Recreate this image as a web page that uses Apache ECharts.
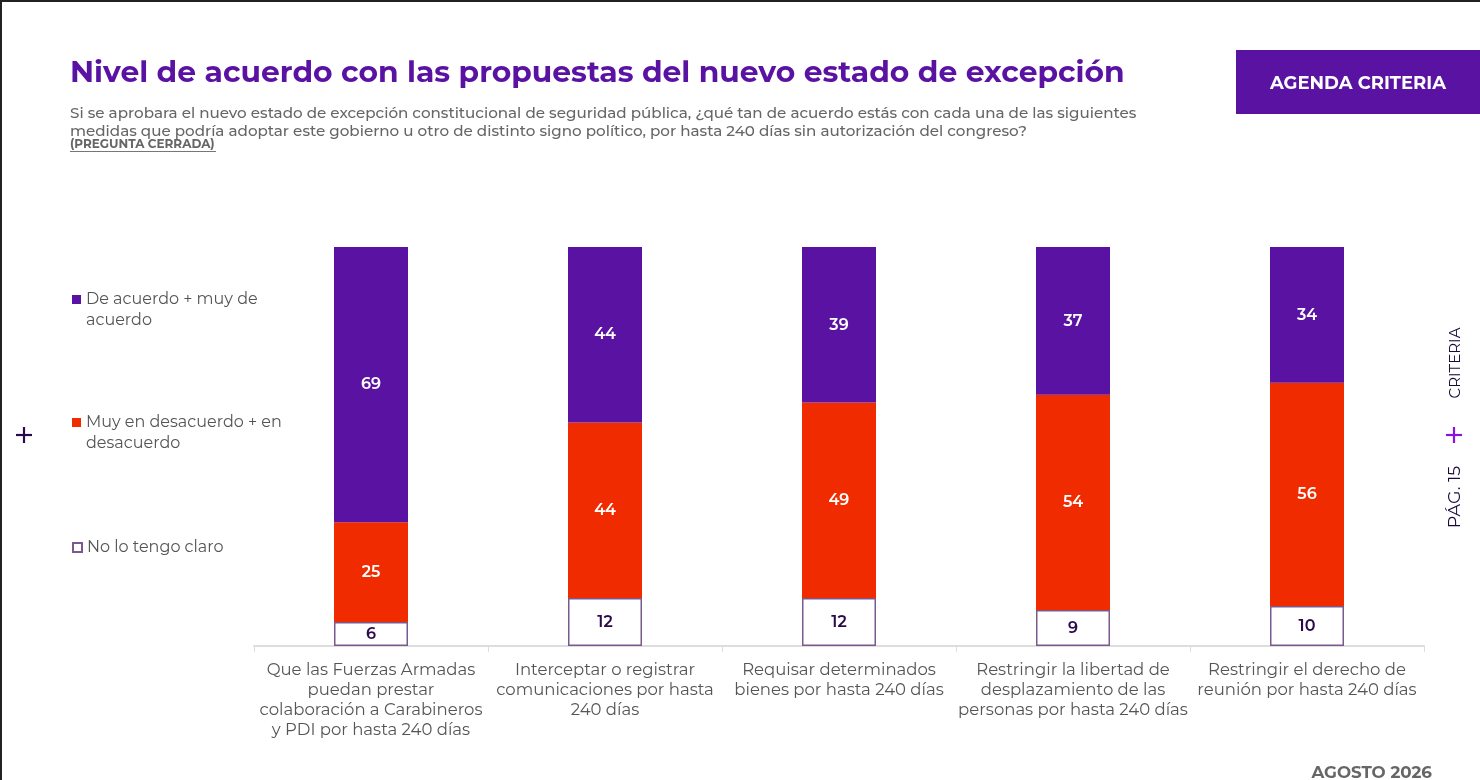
<!DOCTYPE html>
<html>
<head>
<meta charset="utf-8">
<script src="https://cdn.jsdelivr.net/npm/echarts@6/dist/echarts.min.js"></script>
<style>
html,body{margin:0;padding:0;background:#fff;}
#main{width:1480px;height:780px;}
</style>
</head>
<body>
<div id="main"></div>
<script>
var categories = [
	'Que las Fuerzas Armadas\npuedan prestar\ncolaboración a Carabineros\ny PDI por hasta 240 días',
	'Interceptar o registrar\ncomunicaciones por hasta\n240 días',
	'Requisar determinados\nbienes por hasta 240 días',
	'Restringir la libertad de\ndesplazamiento de las\npersonas por hasta 240 días',
	'Restringir el derecho de\nreunión por hasta 240 días'
];
var noClaro = [6, 12, 12, 9, 10];
var desacuerdo = [25, 44, 49, 54, 56];
var acuerdo = [69, 44, 39, 37, 34];

var seriesNames = ['No lo tengo claro', 'Muy en desacuerdo + en desacuerdo', 'De acuerdo + muy de acuerdo'];

var font = 'Montserrat, Inter, sans-serif';
var purple = '#5a12a3';
var red = '#f02b00';
var ink = '#2a0a4a';

var myChart = echarts.init(document.getElementById('main'));

// legend icon sits on the first text line: for 2-line labels the icon box is
// taller (30px) with the square drawn in its top part
var topSquare = 'path://M0,0L9,0L9,9L0,9Z M0,30L0.01,30';

function legendAt(name, label, top, twoLines){
	return {
		orient: 'vertical',
		left: 72,
		top: top,
		padding: 0,
		selectedMode: false,
		icon: twoLines ? topSquare : 'rect',
		itemWidth: 9,
		itemHeight: twoLines ? 30 : 9,
		data: [name],
		formatter: function(){ return label; },
		textStyle: {
			fontFamily: font,
			fontSize: 16,
			lineHeight: 21,
			color: '#555'
		}
	};
}

function plus(cx, cy, half, color){
	return [
		{type: 'line', shape: {x1: cx - half, y1: cy, x2: cx + half, y2: cy}, style: {stroke: color, lineWidth: 2.2}, silent: true},
		{type: 'line', shape: {x1: cx, y1: cy - half, x2: cx, y2: cy + half}, style: {stroke: color, lineWidth: 2.2}, silent: true}
	];
}

var option = {
	animation: false,
	title: [
		{
			text: 'Nivel de acuerdo con las propuestas del nuevo estado de excepción',
			left: 70,
			top: 58,
			padding: 0,
			textStyle: {fontFamily: font, fontSize: 29.8, fontWeight: 'bold', color: purple}
		},
		{
			text: 'Si se aprobara el nuevo estado de excepción constitucional de seguridad pública, ¿qué tan de acuerdo estás con cada una de las siguientes\nmedidas que podría adoptar este gobierno u otro de distinto signo político, por hasta 240 días sin autorización del congreso?',
			left: 70,
			top: 105,
			padding: 0,
			textStyle: {fontFamily: font, fontSize: 15.15, fontWeight: 500, lineHeight: 18, color: '#666'}
		},
		{
			text: '(PREGUNTA CERRADA)',
			left: 70,
			top: 138,
			padding: 0,
			textStyle: {fontFamily: font, fontSize: 12, fontWeight: 'bold', color: '#666'}
		}
	],
	legend: [
		legendAt(seriesNames[2], 'De acuerdo + muy de\nacuerdo', 289, true),
		legendAt(seriesNames[1], 'Muy en desacuerdo + en\ndesacuerdo', 412, true),
		legendAt(seriesNames[0], 'No lo tengo claro', 537, false)
	],
	grid: {left: 254, right: 56, top: 247, bottom: 134},
	xAxis: {
		type: 'category',
		data: categories,
		axisLine: {lineStyle: {color: '#ddd', width: 2}},
		axisTick: {show: true, length: 6, lineStyle: {color: '#ddd'}},
		axisLabel: {
			interval: 0,
			margin: 14,
			fontFamily: font,
			fontSize: 16.5,
			lineHeight: 20,
			color: '#555'
		}
	},
	yAxis: {type: 'value', min: 0, max: 100, show: false, splitLine: {show: false}},
	series: [
		{
			name: seriesNames[0],
			type: 'bar',
			stack: 'total',
			barWidth: 74,
			data: noClaro,
			itemStyle: {color: '#fff', borderColor: '#7a5a8e', borderWidth: 1.5},
			label: {show: true, position: 'inside', fontFamily: font, fontSize: 16, fontWeight: 600, color: ink}
		},
		{
			name: seriesNames[1],
			type: 'bar',
			stack: 'total',
			barWidth: 74,
			data: desacuerdo,
			itemStyle: {color: red},
			label: {show: true, position: 'inside', fontFamily: font, fontSize: 16, fontWeight: 600, color: '#fff'}
		},
		{
			name: seriesNames[2],
			type: 'bar',
			stack: 'total',
			barWidth: 74,
			data: acuerdo,
			itemStyle: {color: purple},
			label: {show: true, position: 'inside', fontFamily: font, fontSize: 16, fontWeight: 600, color: '#fff'}
		}
	],
	graphic: [
		// page frame
		{type: 'line', shape: {x1: 0, y1: 1, x2: 1480, y2: 1}, style: {stroke: '#222', lineWidth: 2}, silent: true},
		{type: 'line', shape: {x1: 1, y1: 0, x2: 1, y2: 780}, style: {stroke: '#222', lineWidth: 2}, silent: true},
		// underline of (PREGUNTA CERRADA)
		{type: 'line', shape: {x1: 70, y1: 151.5, x2: 216, y2: 151.5}, style: {stroke: '#777', lineWidth: 1}, silent: true},
		// header box
		{type: 'rect', shape: {x: 1236, y: 50, width: 246, height: 64}, style: {fill: purple}, silent: true},
		{type: 'text', x: 1358, y: 84, style: {text: 'AGENDA CRITERIA', fill: '#fff', font: 'bold 18px ' + font, textAlign: 'center', textVerticalAlign: 'middle'}, silent: true},
		// side marks
		{type: 'text', x: 1456, y: 363, rotation: Math.PI / 2, style: {text: 'CRITERIA', fill: '#1a0a3a', font: '15px ' + font, textAlign: 'center', textVerticalAlign: 'middle'}, silent: true},
		{type: 'text', x: 1455, y: 497, rotation: Math.PI / 2, style: {text: 'PÁG. 15', fill: '#1a0a3a', font: '17.5px ' + font, textAlign: 'center', textVerticalAlign: 'middle'}, silent: true},
		// date
		{type: 'text', x: 1432, y: 773, style: {text: 'AGOSTO 2026', fill: '#666', font: 'bold 16.7px ' + font, textAlign: 'right', textVerticalAlign: 'middle'}, silent: true}
	].concat(plus(24, 435, 8, ink), plus(1454, 435, 8, '#8a12e0'))
};

myChart.setOption(option);
</script>
</body>
</html>
